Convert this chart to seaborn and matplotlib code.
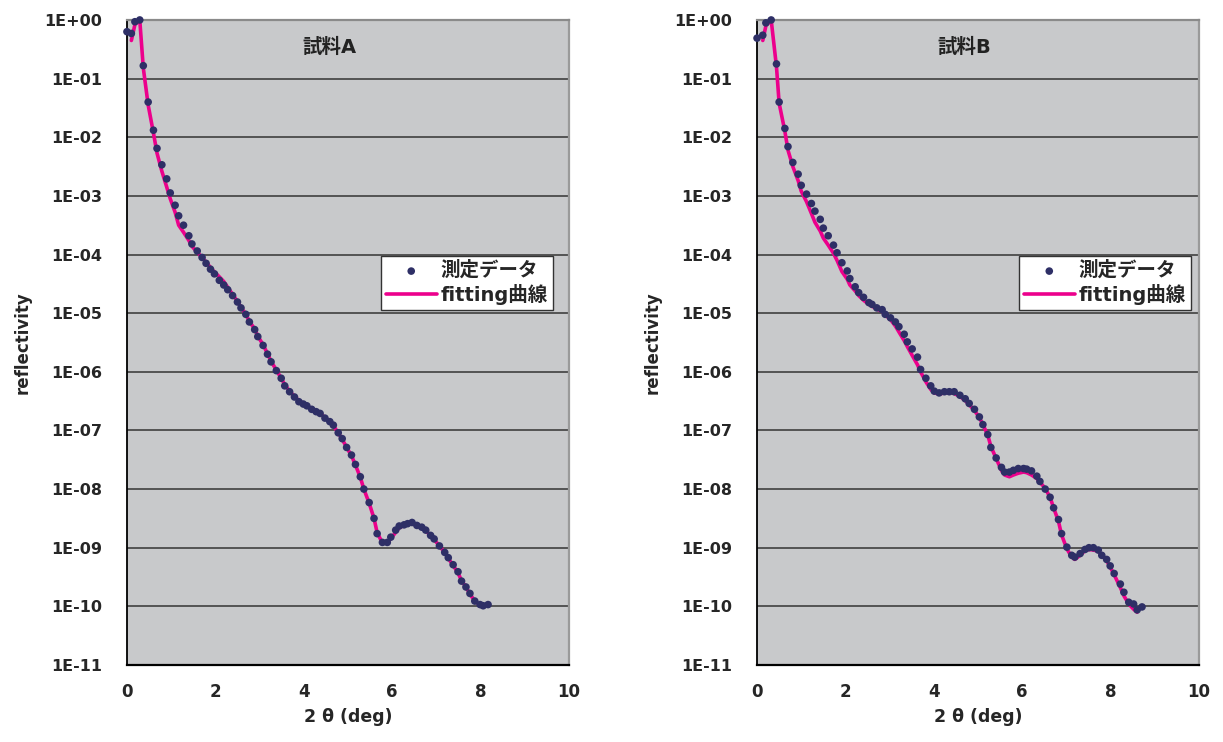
import numpy as np
import matplotlib
matplotlib.use("Agg")
import matplotlib.pyplot as plt
import seaborn as sns
from matplotlib.ticker import FixedLocator, FuncFormatter, NullLocator

sns.set_style("white")
plt.rcParams['font.family'] = ['DejaVu Sans', 'Noto Sans CJK JP']
plt.rcParams['font.weight'] = 'bold'

# values; reflectivity kept as log10 exponents
angle_a = [0.00, 0.10, 0.18, 0.29, 0.37, 0.48, 0.60, 0.68, 0.79, 0.90,
           0.98, 1.09, 1.17, 1.28, 1.40, 1.47, 1.59, 1.70, 1.79, 1.89,
           1.98, 2.09, 2.19, 2.28, 2.39, 2.50, 2.58, 2.69, 2.77, 2.89,
           2.96, 3.08, 3.18, 3.26, 3.38, 3.49, 3.57, 3.68, 3.79, 3.89,
           3.99, 4.07, 4.18, 4.28, 4.37, 4.48, 4.59, 4.67, 4.78, 4.87,
           4.97, 5.08, 5.17, 5.28, 5.36, 5.48, 5.59, 5.66, 5.78, 5.89,
           5.97, 6.08, 6.16, 6.27, 6.35, 6.45, 6.56, 6.67, 6.76, 6.87,
           6.95, 7.07, 7.19, 7.27, 7.38, 7.49, 7.57, 7.67, 7.76, 7.87,
           7.99, 8.06, 8.17]
meas_a = [-0.20, -0.23, -0.03, 0.00, -0.78, -1.40, -1.88, -2.19, -2.47, -2.71,
          -2.95, -3.16, -3.34, -3.50, -3.68, -3.82, -3.94, -4.05, -4.15, -4.25,
          -4.33, -4.44, -4.52, -4.60, -4.70, -4.81, -4.91, -5.02, -5.15, -5.28,
          -5.40, -5.55, -5.70, -5.83, -5.98, -6.11, -6.24, -6.34, -6.43, -6.51,
          -6.55, -6.58, -6.64, -6.68, -6.71, -6.79, -6.85, -6.91, -7.04, -7.14,
          -7.29, -7.42, -7.58, -7.79, -8.00, -8.23, -8.50, -8.76, -8.91, -8.91,
          -8.82, -8.70, -8.63, -8.61, -8.59, -8.57, -8.62, -8.65, -8.70, -8.79,
          -8.85, -8.97, -9.08, -9.17, -9.29, -9.41, -9.57, -9.67, -9.78, -9.91,
          -9.97, -9.99, -9.97]
fit_a = [-0.35, -0.08, 0.00, -0.82, -1.45, -1.93, -2.27, -2.58, -2.85,
         -3.05, -3.28, -3.50, -3.62, -3.76, -3.86, -3.96, -4.05, -4.13, -4.22,
         -4.30, -4.38, -4.46, -4.56, -4.68, -4.80, -4.90, -5.02, -5.14, -5.27,
         -5.39, -5.54, -5.69, -5.82, -5.97, -6.11, -6.22, -6.33, -6.42, -6.49,
         -6.54, -6.58, -6.63, -6.67, -6.71, -6.78, -6.85, -6.92, -7.04, -7.15,
         -7.29, -7.43, -7.59, -7.80, -8.00, -8.24, -8.50, -8.74, -8.92, -8.92,
         -8.84, -8.74, -8.66, -8.62, -8.60, -8.59, -8.62, -8.66, -8.71, -8.79,
         -8.86, -8.97, -9.08, -9.18, -9.30, -9.43, -9.56, -9.67, -9.79, -9.91,
         -9.98, -10.00, -9.97]

angle_b = [0.00, 0.13, 0.20, 0.32, 0.44, 0.50, 0.63, 0.70, 0.81, 0.93,
           1.00, 1.12, 1.23, 1.31, 1.43, 1.50, 1.61, 1.73, 1.81, 1.92,
           2.04, 2.10, 2.22, 2.30, 2.41, 2.53, 2.60, 2.71, 2.83, 2.90,
           3.02, 3.13, 3.21, 3.33, 3.40, 3.51, 3.63, 3.70, 3.82, 3.93,
           4.01, 4.12, 4.24, 4.35, 4.46, 4.59, 4.71, 4.80, 4.92, 5.03,
           5.11, 5.22, 5.29, 5.41, 5.53, 5.60, 5.71, 5.80, 5.91, 6.03,
           6.10, 6.21, 6.33, 6.40, 6.52, 6.63, 6.71, 6.82, 6.89, 7.01,
           7.12, 7.19, 7.31, 7.42, 7.51, 7.61, 7.72, 7.80, 7.91, 7.99,
           8.08, 8.22, 8.30, 8.41, 8.52, 8.60, 8.71]
meas_b = [-0.31, -0.26, -0.05, 0.00, -0.75, -1.40, -1.85, -2.16, -2.43, -2.63,
          -2.82, -2.97, -3.13, -3.26, -3.40, -3.55, -3.68, -3.84, -3.97, -4.14,
          -4.28, -4.41, -4.55, -4.65, -4.73, -4.82, -4.85, -4.91, -4.94, -5.02,
          -5.08, -5.15, -5.23, -5.36, -5.49, -5.61, -5.75, -5.96, -6.11, -6.24,
          -6.33, -6.36, -6.34, -6.34, -6.34, -6.40, -6.46, -6.54, -6.64, -6.77,
          -6.90, -7.07, -7.29, -7.47, -7.63, -7.71, -7.71, -7.68, -7.65, -7.65,
          -7.66, -7.69, -7.78, -7.87, -8.00, -8.14, -8.32, -8.52, -8.76, -8.99,
          -9.13, -9.16, -9.10, -9.03, -9.00, -9.00, -9.04, -9.13, -9.20, -9.31,
          -9.44, -9.62, -9.76, -9.93, -9.96, -10.06, -10.01]
fit_b = [-0.35, -0.10, 0.00, -0.80, -1.42, -1.90, -2.22, -2.50, -2.74,
         -2.92, -3.10, -3.30, -3.45, -3.60, -3.72, -3.84, -3.98, -4.10, -4.29,
         -4.42, -4.52, -4.62, -4.70, -4.78, -4.85, -4.88, -4.93, -4.97, -5.03,
         -5.11, -5.22, -5.32, -5.47, -5.57, -5.72, -5.88, -6.00, -6.17, -6.30,
         -6.36, -6.38, -6.36, -6.35, -6.37, -6.42, -6.49, -6.56, -6.66, -6.78,
         -6.90, -7.08, -7.27, -7.48, -7.68, -7.76, -7.79, -7.76, -7.73, -7.71,
         -7.72, -7.76, -7.82, -7.88, -7.99, -8.14, -8.32, -8.55, -8.78, -9.02,
         -9.16, -9.20, -9.13, -9.05, -9.03, -9.04, -9.06, -9.12, -9.22, -9.33,
         -9.46, -9.68, -9.82, -9.96, -10.05, -10.10]

titles = ['試料A', '試料B']
legend_labels = ['測定データ', 'fitting曲線']
x_ticks = [0, 2, 4, 6, 8, 10]
decades = list(range(-11, 1))

dot_color = '#2E2F66'
fit_color = '#EC008C'


def fmt_e(v, pos):
    return "1E%+03d" % int(round(np.log10(v)))


def draw_panel(ax, x, meas, fx, fit, title, title_x, legend_x0):
    ax.set_facecolor('#C8C9CB')
    ax.set_yscale('log')
    sns.lineplot(x=fx, y=10.0 ** np.array(fit), ax=ax, color=fit_color, lw=2.6,
                 sort=False, estimator=None, label=legend_labels[1], zorder=3)
    sns.scatterplot(x=x, y=10.0 ** np.array(meas), ax=ax, color=dot_color, s=30,
                    edgecolor='none', label=legend_labels[0], zorder=4, clip_on=False)
    ax.set_xlim(0, 10)
    ax.set_ylim(1e-11, 1)
    ax.yaxis.set_major_locator(FixedLocator([10.0 ** d for d in decades]))
    ax.yaxis.set_minor_locator(NullLocator())
    ax.yaxis.set_major_formatter(FuncFormatter(fmt_e))
    ax.set_xticks(x_ticks)
    ax.set_xticklabels([str(t) for t in x_ticks])
    ax.yaxis.grid(True, color='#4A4A4A', lw=1.3)
    ax.xaxis.grid(False)
    ax.set_axisbelow(True)
    ax.tick_params(axis='x', direction='in', length=5, width=1, color='#333333',
                   pad=13, labelsize=12)
    ax.tick_params(axis='y', length=0, pad=18, labelsize=11.5)
    for lab in ax.get_xticklabels() + ax.get_yticklabels():
        lab.set_fontweight('bold')
    ax.spines['left'].set_color('black')
    ax.spines['left'].set_linewidth(1.3)
    ax.spines['bottom'].set_color('black')
    ax.spines['bottom'].set_linewidth(1.6)
    ax.spines['right'].set_color('#9A9A9A')
    ax.spines['right'].set_linewidth(1.6)
    ax.spines['top'].set_color('#8A8A8A')
    ax.spines['top'].set_linewidth(1.6)

    ax.set_xlabel('2 θ (deg)', fontsize=12.5, fontweight='bold')
    ax.xaxis.set_label_coords(0.5, -0.066)
    ax.set_ylabel('reflectivity', fontsize=12, fontweight='bold')
    ax.yaxis.set_label_coords(-0.215, 0.5)

    ax.text(title_x, 0.958, title, transform=ax.transAxes, ha='center', va='center',
            fontsize=14, fontweight='bold', color='#222222')

    handles, labels = ax.get_legend_handles_labels()
    order = [labels.index(l) for l in legend_labels]
    leg = ax.legend([handles[i] for i in order], [labels[i] for i in order],
                    loc='upper left', bbox_to_anchor=(legend_x0, 0.634),
                    frameon=True, fancybox=False, framealpha=1, edgecolor='#333333',
                    borderaxespad=0, fontsize=14, handlelength=2.6, handletextpad=0.2,
                    borderpad=0.25, labelspacing=0.2, markerscale=1.0)
    leg.get_frame().set_linewidth(1.0)
    for t in leg.get_texts():
        t.set_fontweight('bold')


fig = plt.figure(figsize=(12.23, 7.42), dpi=100)
ax_a = fig.add_axes([0.1038, 0.1038, 0.3614, 0.8693])
ax_b = fig.add_axes([0.619, 0.1038, 0.3614, 0.8693])

draw_panel(ax_a, angle_a, meas_a, angle_a[1:], fit_a, titles[0], 0.459, 0.575)
draw_panel(ax_b, angle_b, meas_b, angle_b[1:-1], fit_b, titles[1], 0.47, 0.593)

fig.savefig('out.png', dpi=100)
